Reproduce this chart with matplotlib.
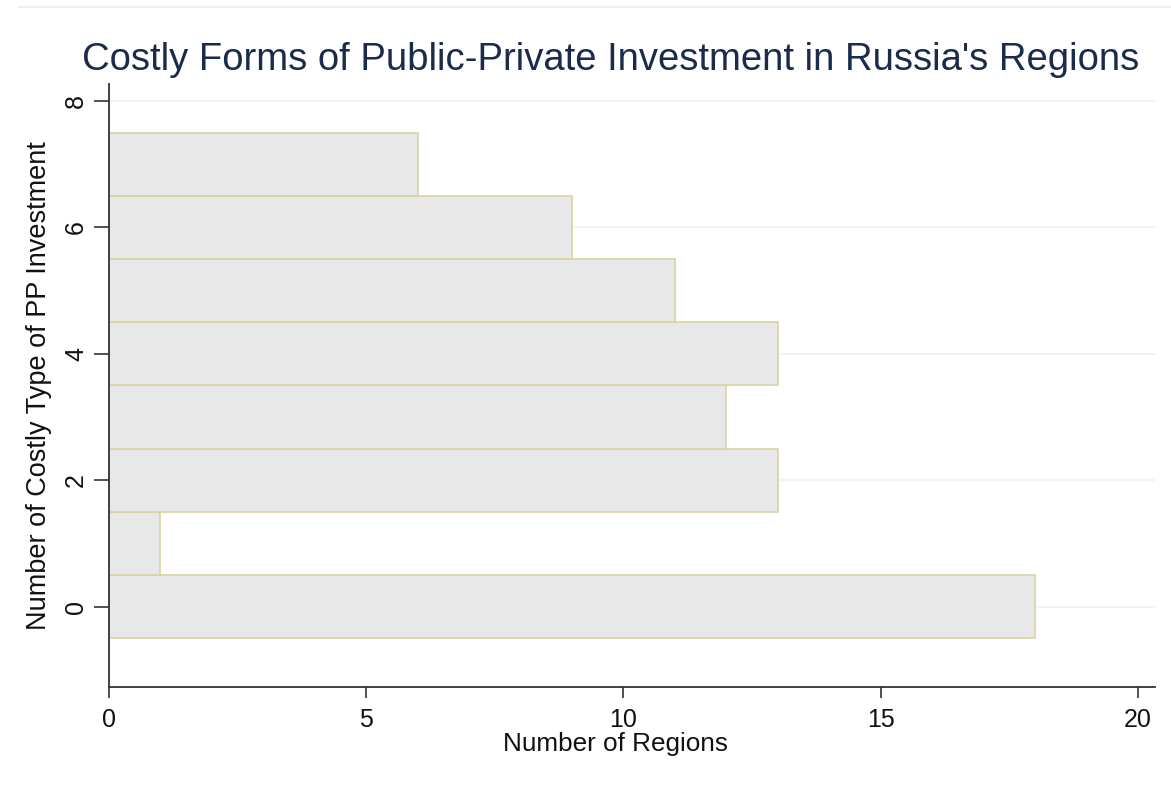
import matplotlib.pyplot as plt
from matplotlib.lines import Line2D

# number of costly PP investment types vs number of regions
types = [0, 1, 2, 3, 4, 5, 6, 7]
regions = [18, 1, 13, 12, 13, 11, 9, 6]
xticks = [0, 5, 10, 15, 20]
yticks = [0, 2, 4, 6, 8]

plt.rcParams['font.family'] = ['Liberation Sans', 'DejaVu Sans']

fig = plt.figure(figsize=(11.71, 7.87), dpi=100)
ax = fig.add_axes([0.0931, 0.1271, 0.8932, 0.7662])

# faint frame line at the very top
fig.add_artist(Line2D([0.015, 1.0], [0.991, 0.991], color='#eaeeee', lw=1.2))

ax.barh(types, regions, height=1.0, color='#e8e8e8', edgecolor='#d9d3a3',
        linewidth=1.2, zorder=2)

ax.set_xlim(0, 20.33)
ax.set_ylim(-1.27, 8.27)
ax.set_xticks(xticks)
ax.set_yticks(yticks)
ax.grid(axis='y', color='#edf2f2', lw=1.2, zorder=0)

for s in ['top', 'right']:
    ax.spines[s].set_visible(False)
for s in ['left', 'bottom']:
    ax.spines[s].set_color('#333333')
    ax.spines[s].set_linewidth(1.3)

ax.tick_params(axis='both', width=1.2, color='#333333',
               labelsize=18, labelcolor='#111111')
ax.tick_params(axis='x', length=8, pad=7)
ax.tick_params(axis='y', length=11, pad=4)
for lab in ax.get_yticklabels():
    lab.set_rotation(90)
    lab.set_va('center')

ax.set_xlabel('Number of Regions', fontsize=18.8, color='#111111', labelpad=0,
              x=0.484)
ax.set_ylabel('Number of Costly Type of PP Investment', fontsize=19.5,
              color='#111111', labelpad=9)
ax.set_title("Costly Forms of Public-Private Investment in Russia's Regions",
             fontsize=27.5, color='#1a2b4c', pad=10, x=0.48)

fig.savefig('out.png', dpi=100)
